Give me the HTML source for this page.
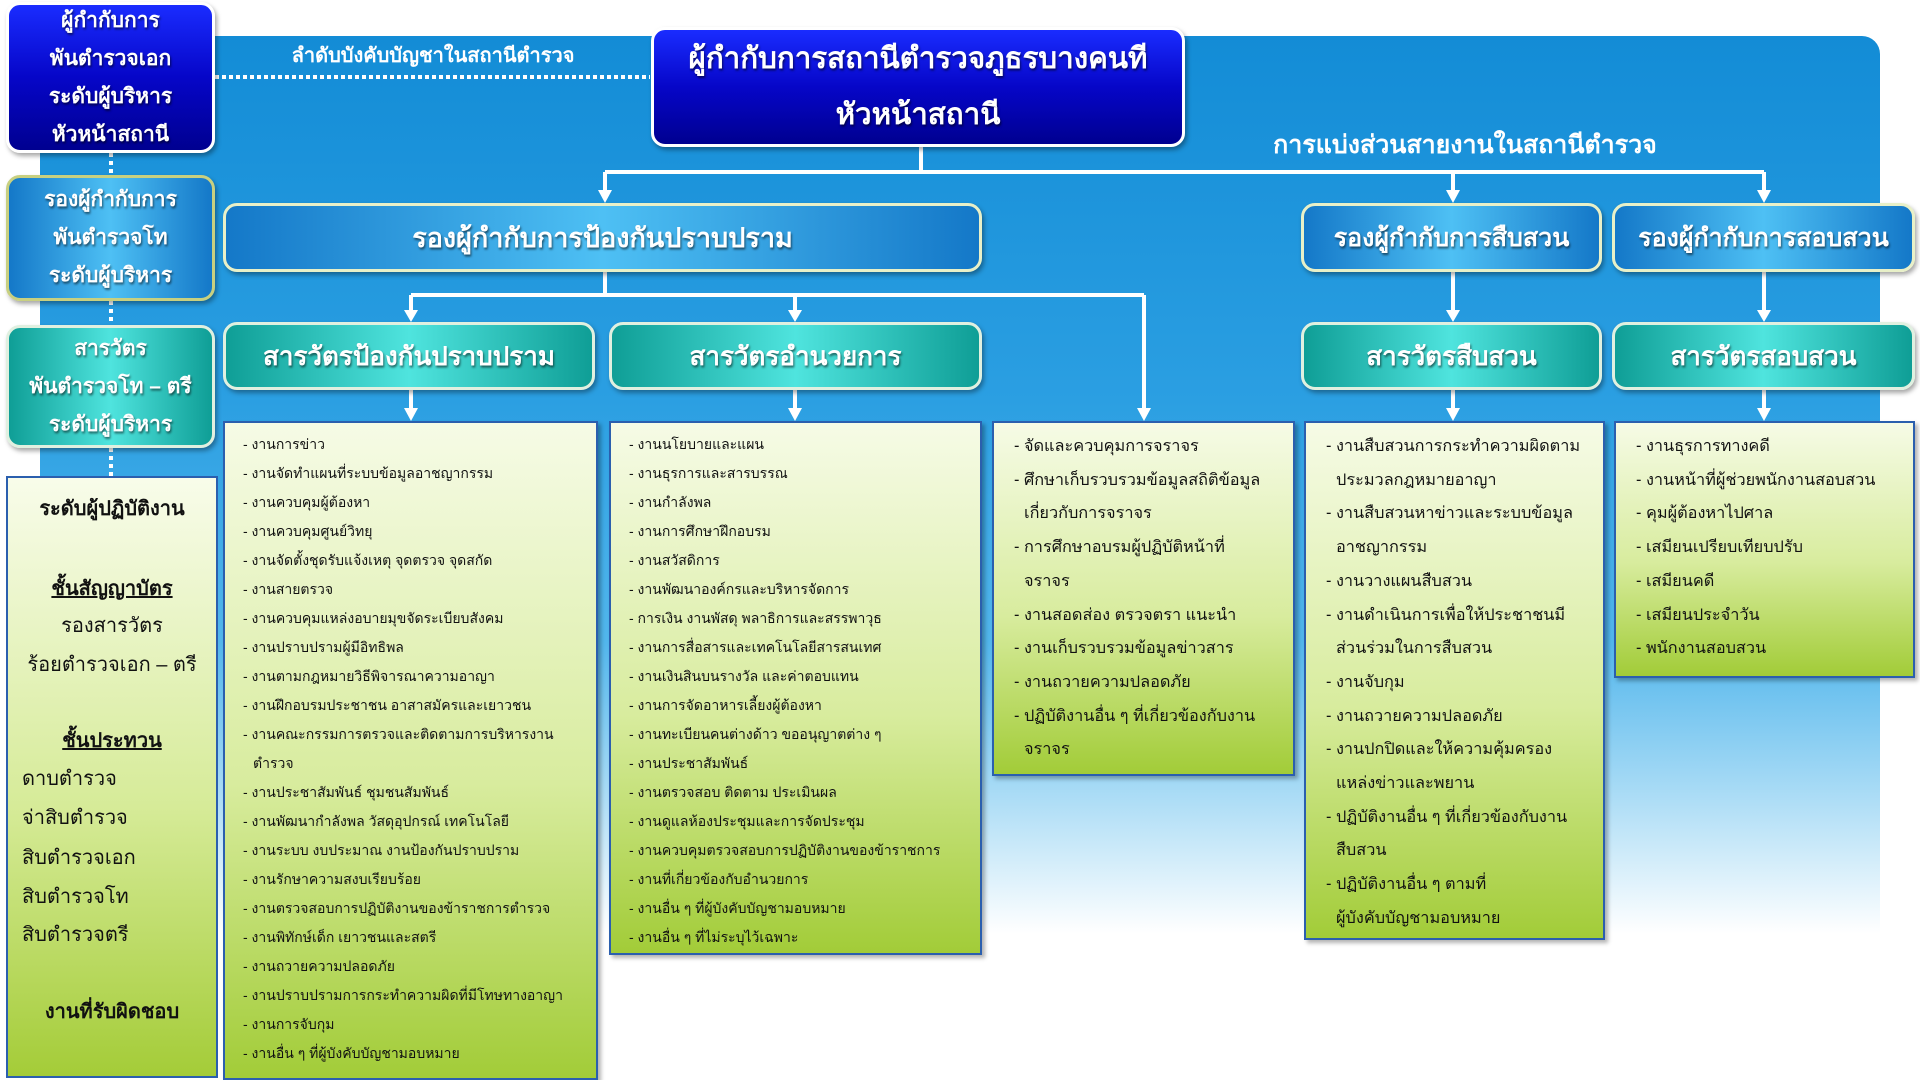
<!DOCTYPE html>
<html><head><meta charset="utf-8">
<style>
*{margin:0;padding:0;box-sizing:border-box}
body{width:1920px;height:1080px;overflow:hidden;background:#fff;position:relative;font-family:"Liberation Sans","DejaVu Sans",sans-serif}
.bg{position:absolute;left:40px;top:36px;width:1840px;height:1044px;border-radius:0 18px 0 0;
background:linear-gradient(to bottom,#138cd6 0%,#2b9fe2 35%,#52b6ec 58%,#a6daf5 72%,#ffffff 86%)}
.b{position:absolute;display:flex;align-items:center;justify-content:center;text-align:center;color:#fff;font-weight:bold;text-shadow:1px 2px 2px rgba(0,0,0,.55);border:3px solid #fff;border-radius:14px;box-shadow:2px 3px 5px rgba(0,0,0,.35);white-space:nowrap}
.dk{background:linear-gradient(to bottom,#1a2cff,#0606c8 50%,#000090)}
.lb{background:linear-gradient(to right,#1478c8,#4ec0f4 50%,#1478c8);border-color:#e8f0c8}
.tl{background:linear-gradient(to right,#0f9e96,#4fe4de 50%,#0f9e96);border-color:#e0f0e0}
.lst{position:absolute;background:linear-gradient(to bottom,#f6fbe6 0%,#d8ec9e 55%,#a2cc38 100%);border:2px solid #2b5fae;box-shadow:3px 3px 4px rgba(0,0,0,.3);color:#111;white-space:nowrap;overflow:hidden}
.lst div{padding-left:12px;text-indent:-10px}
.s{line-height:29px;padding:7px 4px 0 16px;font-size:14px}
.m{line-height:33.7px;padding:7px 4px 0 18px;font-size:16.3px}
.gl{position:absolute;left:6px;top:476px;width:212px;height:602px;background:linear-gradient(to bottom,#f8fcea,#d6eb98 55%,#a4cc38);border:2px solid #2b5fae;font-size:20px;color:#111;white-space:nowrap}
.gl p{position:absolute;width:100%;line-height:30px}
</style></head><body>
<div class="bg"></div>
<svg width="1920" height="1080" style="position:absolute;left:0;top:0">
<g stroke="#fff" stroke-width="4" fill="none">
<line x1="215" y1="77" x2="650" y2="77" stroke-dasharray="4 3" stroke-width="4"/>
<line x1="111" y1="153" x2="111" y2="175" stroke-dasharray="4 4"/>
<line x1="111" y1="301" x2="111" y2="325" stroke-dasharray="4 4"/>
<line x1="111" y1="448" x2="111" y2="476" stroke-dasharray="4 4"/>
<polyline points="921,147 921,172"/>
<line x1="605" y1="172" x2="1764" y2="172"/>
<line x1="605" y1="172" x2="605" y2="192"/>
<line x1="1453" y1="172" x2="1453" y2="192"/>
<line x1="1764" y1="172" x2="1764" y2="192"/>
<line x1="605" y1="272" x2="605" y2="295"/>
<line x1="411" y1="295" x2="1144" y2="295"/>
<line x1="411" y1="295" x2="411" y2="312"/>
<line x1="795" y1="295" x2="795" y2="312"/>
<line x1="1144" y1="295" x2="1144" y2="410"/>
<line x1="1453" y1="272" x2="1453" y2="312"/>
<line x1="1764" y1="272" x2="1764" y2="312"/>
<line x1="411" y1="390" x2="411" y2="410"/>
<line x1="795" y1="390" x2="795" y2="410"/>
<line x1="1453" y1="390" x2="1453" y2="410"/>
<line x1="1764" y1="390" x2="1764" y2="410"/>
</g>
<g fill="#fff">
<polygon points="598,190 612,190 605,203"/><polygon points="1446,190 1460,190 1453,203"/><polygon points="1757,190 1771,190 1764,203"/>
<polygon points="404,310 418,310 411,322"/><polygon points="788,310 802,310 795,322"/><polygon points="1446,310 1460,310 1453,322"/><polygon points="1757,310 1771,310 1764,322"/>
<polygon points="404,408 418,408 411,421"/><polygon points="788,408 802,408 795,421"/><polygon points="1137,408 1151,408 1144,421"/><polygon points="1446,408 1460,408 1453,421"/><polygon points="1757,408 1771,408 1764,421"/>
</g>
<text x="433" y="62" fill="#fff" font-size="20" font-weight="bold" text-anchor="middle" font-family="Liberation Sans, sans-serif">ลำดับบังคับบัญชาในสถานีตำรวจ</text>
<text x="1465" y="153" fill="#fff" font-size="25" font-weight="bold" text-anchor="middle" font-family="Liberation Sans, sans-serif">การแบ่งส่วนสายงานในสถานีตำรวจ</text>
</svg>

<div class="b dk" style="left:6px;top:2px;width:209px;height:151px;font-size:21px;line-height:38px">ผู้กำกับการ<br>พันตำรวจเอก<br>ระดับผู้บริหาร<br>หัวหน้าสถานี</div>
<div class="b lb" style="left:6px;top:175px;width:209px;height:126px;font-size:21px;line-height:38px;border-color:#c8d080">รองผู้กำกับการ<br>พันตำรวจโท<br>ระดับผู้บริหาร</div>
<div class="b tl" style="left:6px;top:325px;width:209px;height:123px;font-size:21px;line-height:38px">สารวัตร<br>พันตำรวจโท – ตรี<br>ระดับผู้บริหาร</div>

<div class="b dk" style="left:651px;top:27px;width:534px;height:120px;font-size:29.5px;line-height:56px">ผู้กำกับการสถานีตำรวจภูธรบางคนที<br>หัวหน้าสถานี</div>

<div class="b lb" style="left:223px;top:203px;width:759px;height:69px;font-size:27px">รองผู้กำกับการป้องกันปราบปราม</div>
<div class="b lb" style="left:1301px;top:203px;width:301px;height:69px;font-size:25px">รองผู้กำกับการสืบสวน</div>
<div class="b lb" style="left:1612px;top:203px;width:303px;height:69px;font-size:25px">รองผู้กำกับการสอบสวน</div>

<div class="b tl" style="left:223px;top:322px;width:372px;height:68px;font-size:26px">สารวัตรป้องกันปราบปราม</div>
<div class="b tl" style="left:609px;top:322px;width:373px;height:68px;font-size:26px">สารวัตรอำนวยการ</div>
<div class="b tl" style="left:1301px;top:322px;width:301px;height:68px;font-size:26px">สารวัตรสืบสวน</div>
<div class="b tl" style="left:1612px;top:322px;width:303px;height:68px;font-size:26px">สารวัตรสอบสวน</div>

<div class="gl">
<p style="top:16px;text-align:center;font-weight:bold">ระดับผู้ปฏิบัติงาน</p>
<p style="top:96px;text-align:center;font-weight:bold;text-decoration:underline">ชั้นสัญญาบัตร</p>
<p style="top:133px;text-align:center">รองสารวัตร</p>
<p style="top:172px;text-align:center">ร้อยตำรวจเอก – ตรี</p>
<p style="top:248px;text-align:center;font-weight:bold;text-decoration:underline">ชั้นประทวน</p>
<p style="top:286px;left:14px">ดาบตำรวจ</p>
<p style="top:325px;left:14px">จ่าสิบตำรวจ</p>
<p style="top:365px;left:14px">สิบตำรวจเอก</p>
<p style="top:404px;left:14px">สิบตำรวจโท</p>
<p style="top:442px;left:14px">สิบตำรวจตรี</p>
<p style="top:519px;text-align:center;font-weight:bold">งานที่รับผิดชอบ</p>
</div>

<div class="lst s" style="left:223px;top:421px;width:375px;height:659px">
<div>- งานการข่าว</div><div>- งานจัดทำแผนที่ระบบข้อมูลอาชญากรรม</div><div>- งานควบคุมผู้ต้องหา</div><div>- งานควบคุมศูนย์วิทยุ</div><div>- งานจัดตั้งชุดรับแจ้งเหตุ จุดตรวจ จุดสกัด</div><div>- งานสายตรวจ</div><div>- งานควบคุมแหล่งอบายมุขจัดระเบียบสังคม</div><div>- งานปราบปรามผู้มีอิทธิพล</div><div>- งานตามกฎหมายวิธีพิจารณาความอาญา</div><div>- งานฝึกอบรมประชาชน อาสาสมัครและเยาวชน</div><div>- งานคณะกรรมการตรวจและติดตามการบริหารงาน<br>ตำรวจ</div><div>- งานประชาสัมพันธ์ ชุมชนสัมพันธ์</div><div>- งานพัฒนากำลังพล วัสดุอุปกรณ์ เทคโนโลยี</div><div>- งานระบบ งบประมาณ งานป้องกันปราบปราม</div><div>- งานรักษาความสงบเรียบร้อย</div><div>- งานตรวจสอบการปฏิบัติงานของข้าราชการตำรวจ</div><div>- งานพิทักษ์เด็ก เยาวชนและสตรี</div><div>- งานถวายความปลอดภัย</div><div>- งานปราบปรามการกระทำความผิดที่มีโทษทางอาญา</div><div>- งานการจับกุม</div><div>- งานอื่น ๆ ที่ผู้บังคับบัญชามอบหมาย</div>
</div>

<div class="lst s" style="left:609px;top:421px;width:373px;height:534px">
<div>- งานนโยบายและแผน</div><div>- งานธุรการและสารบรรณ</div><div>- งานกำลังพล</div><div>- งานการศึกษาฝึกอบรม</div><div>- งานสวัสดิการ</div><div>- งานพัฒนาองค์กรและบริหารจัดการ</div><div>- การเงิน งานพัสดุ พลาธิการและสรรพาวุธ</div><div>- งานการสื่อสารและเทคโนโลยีสารสนเทศ</div><div>- งานเงินสินบนรางวัล และค่าตอบแทน</div><div>- งานการจัดอาหารเลี้ยงผู้ต้องหา</div><div>- งานทะเบียนคนต่างด้าว ขออนุญาตต่าง ๆ</div><div>- งานประชาสัมพันธ์</div><div>- งานตรวจสอบ ติดตาม ประเมินผล</div><div>- งานดูแลห้องประชุมและการจัดประชุม</div><div>- งานควบคุมตรวจสอบการปฏิบัติงานของข้าราชการ</div><div>- งานที่เกี่ยวข้องกับอำนวยการ</div><div>- งานอื่น ๆ ที่ผู้บังคับบัญชามอบหมาย</div><div>- งานอื่น ๆ ที่ไม่ระบุไว้เฉพาะ</div>
</div>

<div class="lst m" style="left:992px;top:421px;width:303px;height:355px">
<div>- จัดและควบคุมการจราจร</div><div>- ศึกษาเก็บรวบรวมข้อมูลสถิติข้อมูล<br>เกี่ยวกับการจราจร</div><div>- การศึกษาอบรมผู้ปฏิบัติหน้าที่<br>จราจร</div><div>- งานสอดส่อง ตรวจตรา แนะนำ</div><div>- งานเก็บรวบรวมข้อมูลข่าวสาร</div><div>- งานถวายความปลอดภัย</div><div>- ปฏิบัติงานอื่น ๆ ที่เกี่ยวข้องกับงาน<br>จราจร</div>
</div>

<div class="lst m" style="left:1304px;top:421px;width:301px;height:519px">
<div>- งานสืบสวนการกระทำความผิดตาม<br>ประมวลกฎหมายอาญา</div><div>- งานสืบสวนหาข่าวและระบบข้อมูล<br>อาชญากรรม</div><div>- งานวางแผนสืบสวน</div><div>- งานดำเนินการเพื่อให้ประชาชนมี<br>ส่วนร่วมในการสืบสวน</div><div>- งานจับกุม</div><div>- งานถวายความปลอดภัย</div><div>- งานปกปิดและให้ความคุ้มครอง<br>แหล่งข่าวและพยาน</div><div>- ปฏิบัติงานอื่น ๆ ที่เกี่ยวข้องกับงาน<br>สืบสวน</div><div>- ปฏิบัติงานอื่น ๆ ตามที่<br>ผู้บังคับบัญชามอบหมาย</div>
</div>

<div class="lst m" style="left:1614px;top:421px;width:301px;height:257px">
<div>- งานธุรการทางคดี</div><div>- งานหน้าที่ผู้ช่วยพนักงานสอบสวน</div><div>- คุมผู้ต้องหาไปศาล</div><div>- เสมียนเปรียบเทียบปรับ</div><div>- เสมียนคดี</div><div>- เสมียนประจำวัน</div><div>- พนักงานสอบสวน</div>
</div>
</body></html>
